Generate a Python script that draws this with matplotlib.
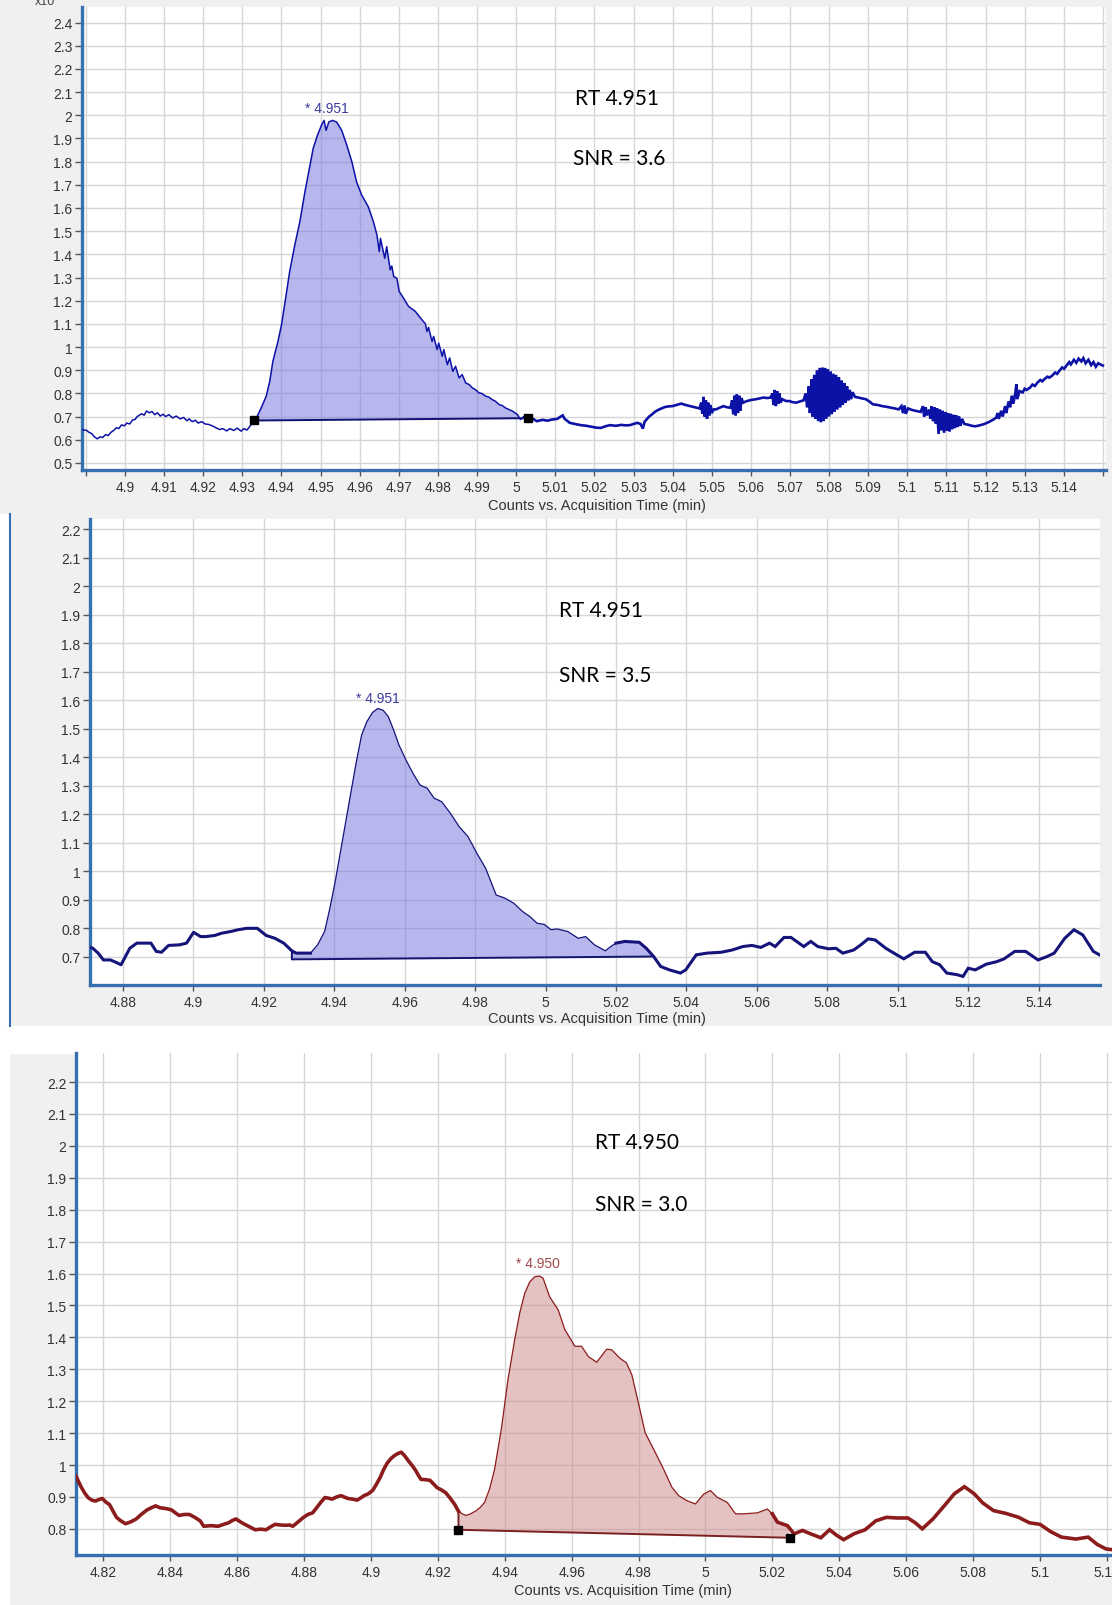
import numpy as np
import matplotlib.pyplot as plt
from matplotlib.patches import Rectangle

plt.rcParams['font.family'] = ['Liberation Sans', 'DejaVu Sans']

W, H = 1112, 1606

# ---- panel 1 : RT 4.951, SNR 3.6 (blue, noisy) ----
t1 = [4.8888, 4.8895, 4.8902, 4.8908, 4.8915, 4.8922, 4.8929, 4.8936, 4.8943, 4.8950,
      4.8957, 4.8964, 4.8971, 4.8978, 4.8984, 4.8991, 4.8998, 4.9005, 4.9012, 4.9019,
      4.9026, 4.9031, 4.9035, 4.9042, 4.9049, 4.9055, 4.9062, 4.9069, 4.9076, 4.9083,
      4.9090, 4.9097, 4.9104, 4.9112, 4.9122, 4.9131, 4.9141, 4.9150, 4.9158, 4.9164,
      4.9172, 4.9180, 4.9187, 4.9196, 4.9205, 4.9214, 4.9223, 4.9232, 4.9242, 4.9250,
      4.9260, 4.9268, 4.9278, 4.9287, 4.9297, 4.9304, 4.9312, 4.9320, 4.9330, 4.9336,
      4.9348, 4.9361, 4.9370, 4.9378, 4.9391, 4.9400, 4.9408, 4.9421, 4.9434, 4.9447,
      4.9460, 4.9473, 4.9481, 4.9492, 4.9503, 4.9509, 4.9514, 4.9521, 4.9530, 4.9541,
      4.9554, 4.9567, 4.9580, 4.9592, 4.9605, 4.9622, 4.9635, 4.9644, 4.9650, 4.9653,
      4.9664, 4.9669, 4.9678, 4.9682, 4.9687, 4.9695, 4.9701, 4.9712, 4.9725, 4.9742,
      4.9759, 4.9768, 4.9772, 4.9776, 4.9785, 4.9789, 4.9798, 4.9802, 4.9811, 4.9815,
      4.9824, 4.9830, 4.9838, 4.9845, 4.9854, 4.9862, 4.9871, 4.9880, 4.9888, 4.9896,
      4.9905, 4.9912, 4.9922, 4.9930, 4.9939, 4.9947, 4.9956, 4.9964, 4.9973, 4.9982,
      4.9991, 5.0003, 5.0011, 5.0020, 5.0029, 5.0036, 5.0043, 5.0053, 5.0068, 5.0080,
      5.0091, 5.0105, 5.0112, 5.0119, 5.0124, 5.0137, 5.0150, 5.0165, 5.0180, 5.0193,
      5.0205, 5.0217, 5.0228, 5.0240, 5.0255, 5.0268, 5.0280, 5.0291, 5.0300, 5.0310,
      5.0318, 5.0324, 5.0328, 5.0333, 5.0340, 5.0347, 5.0356, 5.0366, 5.0373, 5.0380,
      5.0390, 5.0399, 5.0410, 5.0422, 5.0433, 5.0445, 5.0457, 5.0469, 5.0473, 5.0476,
      5.0479, 5.0482, 5.0485, 5.0488, 5.0491, 5.0494, 5.0497, 5.0500, 5.0505, 5.0511,
      5.0520, 5.0530, 5.0539, 5.0548, 5.0552, 5.0555, 5.0558, 5.0561, 5.0564, 5.0567,
      5.0570, 5.0573, 5.0576, 5.0580, 5.0590, 5.0602, 5.0614, 5.0622, 5.0632, 5.0641,
      5.0651, 5.0655, 5.0658, 5.0661, 5.0664, 5.0667, 5.0670, 5.0673, 5.0676, 5.0680,
      5.0690, 5.0698, 5.0707, 5.0716, 5.0725, 5.0735, 5.0740, 5.0744, 5.0748, 5.0751,
      5.0755, 5.0758, 5.0762, 5.0765, 5.0769, 5.0772, 5.0776, 5.0779, 5.0783, 5.0786,
      5.0790, 5.0793, 5.0797, 5.0800, 5.0804, 5.0807, 5.0811, 5.0814, 5.0818, 5.0821,
      5.0825, 5.0828, 5.0832, 5.0835, 5.0839, 5.0842, 5.0846, 5.0849, 5.0853, 5.0856,
      5.0860, 5.0866, 5.0875, 5.0885, 5.0894, 5.0903, 5.0912, 5.0924, 5.0936, 5.0947,
      5.0959, 5.0968, 5.0978, 5.0985, 5.0989, 5.0993, 5.0996, 5.1002, 5.1013, 5.1024,
      5.1034, 5.1040, 5.1043, 5.1047, 5.1050, 5.1056, 5.1059, 5.1062, 5.1066, 5.1069,
      5.1073, 5.1076, 5.1080, 5.1083, 5.1087, 5.1090, 5.1094, 5.1097, 5.1101, 5.1104,
      5.1108, 5.1111, 5.1115, 5.1118, 5.1122, 5.1125, 5.1129, 5.1132, 5.1136, 5.1140,
      5.1146, 5.1155, 5.1165, 5.1174, 5.1185, 5.1197, 5.1208, 5.1220, 5.1227, 5.1231,
      5.1234, 5.1240, 5.1244, 5.1250, 5.1253, 5.1259, 5.1263, 5.1267, 5.1271, 5.1276,
      5.1279, 5.1281, 5.1287, 5.1295, 5.1300, 5.1305, 5.1314, 5.1320, 5.1326, 5.1333,
      5.1340, 5.1345, 5.1351, 5.1358, 5.1363, 5.1370, 5.1378, 5.1383, 5.1389, 5.1396,
      5.1401, 5.1407, 5.1414, 5.1418, 5.1426, 5.1432, 5.1438, 5.1445, 5.1450, 5.1456,
      5.1463, 5.1470, 5.1476, 5.1482, 5.1488, 5.1491, 5.1500]
i1 = [0.645, 0.642, 0.640, 0.632, 0.626, 0.612, 0.604, 0.612, 0.610, 0.622,
      0.618, 0.632, 0.640, 0.652, 0.648, 0.664, 0.660, 0.672, 0.668, 0.685,
      0.688, 0.700, 0.704, 0.712, 0.706, 0.724, 0.716, 0.722, 0.708, 0.716,
      0.702, 0.710, 0.700, 0.708, 0.694, 0.702, 0.690, 0.696, 0.682, 0.690,
      0.678, 0.684, 0.672, 0.678, 0.668, 0.666, 0.660, 0.652, 0.644, 0.648,
      0.638, 0.648, 0.640, 0.650, 0.637, 0.648, 0.642, 0.660, 0.683, 0.694,
      0.737, 0.788, 0.852, 0.938, 1.024, 1.096, 1.182, 1.326, 1.440, 1.541,
      1.670, 1.785, 1.857, 1.914, 1.960, 1.978, 1.935, 1.971, 1.978, 1.971,
      1.935, 1.871, 1.799, 1.713, 1.656, 1.605, 1.541, 1.484, 1.412, 1.469,
      1.383, 1.433, 1.333, 1.350, 1.304, 1.297, 1.240, 1.211, 1.175, 1.154,
      1.118, 1.100, 1.067, 1.085, 1.024, 1.046, 0.989, 1.017, 0.960, 0.989,
      0.924, 0.953, 0.895, 0.917, 0.867, 0.881, 0.845, 0.838, 0.824, 0.816,
      0.802, 0.800, 0.788, 0.784, 0.773, 0.766, 0.752, 0.748, 0.737, 0.730,
      0.723, 0.709, 0.687, 0.701, 0.693, 0.680, 0.690, 0.680, 0.686, 0.682,
      0.687, 0.690, 0.698, 0.705, 0.690, 0.673, 0.668, 0.663, 0.660, 0.656,
      0.652, 0.651, 0.658, 0.663, 0.660, 0.664, 0.662, 0.663, 0.668, 0.673,
      0.668, 0.648, 0.676, 0.687, 0.700, 0.709, 0.722, 0.731, 0.736, 0.741,
      0.744, 0.745, 0.750, 0.756, 0.750, 0.745, 0.740, 0.735, 0.760, 0.712,
      0.785, 0.700, 0.770, 0.690, 0.760, 0.705, 0.750, 0.715, 0.731, 0.731,
      0.738, 0.745, 0.740, 0.738, 0.770, 0.710, 0.790, 0.705, 0.795, 0.715,
      0.790, 0.725, 0.780, 0.760, 0.767, 0.772, 0.775, 0.778, 0.782, 0.780,
      0.782, 0.800, 0.750, 0.815, 0.745, 0.810, 0.755, 0.800, 0.760, 0.775,
      0.767, 0.767, 0.762, 0.760, 0.765, 0.770, 0.800, 0.740, 0.830, 0.715,
      0.860, 0.700, 0.880, 0.690, 0.900, 0.680, 0.910, 0.675, 0.912, 0.680,
      0.910, 0.690, 0.905, 0.700, 0.895, 0.710, 0.885, 0.720, 0.880, 0.730,
      0.870, 0.740, 0.855, 0.750, 0.845, 0.760, 0.830, 0.770, 0.815, 0.775,
      0.805, 0.785, 0.782, 0.778, 0.775, 0.765, 0.753, 0.750, 0.745, 0.742,
      0.738, 0.735, 0.731, 0.745, 0.715, 0.748, 0.712, 0.735, 0.728, 0.724,
      0.720, 0.745, 0.700, 0.740, 0.705, 0.730, 0.690, 0.745, 0.680, 0.740,
      0.670, 0.735, 0.625, 0.730, 0.640, 0.725, 0.630, 0.720, 0.640, 0.715,
      0.635, 0.712, 0.645, 0.708, 0.650, 0.705, 0.655, 0.700, 0.660, 0.690,
      0.668, 0.665, 0.660, 0.658, 0.662, 0.668, 0.676, 0.687, 0.695, 0.715,
      0.690, 0.725, 0.700, 0.745, 0.715, 0.765, 0.740, 0.790, 0.755, 0.800,
      0.840, 0.775, 0.810, 0.804, 0.820, 0.815, 0.825, 0.838, 0.832, 0.847,
      0.858, 0.852, 0.862, 0.872, 0.868, 0.876, 0.890, 0.884, 0.898, 0.912,
      0.906, 0.920, 0.935, 0.925, 0.945, 0.932, 0.950, 0.938, 0.952, 0.930,
      0.945, 0.922, 0.935, 0.915, 0.930, 0.927, 0.920]

# ---- panel 2 : RT 4.951, SNR 3.5 (navy, smoothed) ----
t2 = [4.8707, 4.8715, 4.8730, 4.8745, 4.8765, 4.8780, 4.8795, 4.8805, 4.8820, 4.8840,
      4.8880, 4.8895, 4.8910, 4.8930, 4.8961, 4.8981, 4.9001, 4.9021, 4.9036, 4.9061,
      4.9081, 4.9107, 4.9127, 4.9152, 4.9182, 4.9207, 4.9232, 4.9257, 4.9280, 4.9292,
      4.9333, 4.9353, 4.9373, 4.9388, 4.9403, 4.9423, 4.9443, 4.9463, 4.9478, 4.9493,
      4.9509, 4.9524, 4.9539, 4.9554, 4.9569, 4.9584, 4.9604, 4.9624, 4.9644, 4.9664,
      4.9684, 4.9705, 4.9730, 4.9755, 4.9780, 4.9805, 4.9830, 4.9860, 4.9885, 4.9910,
      4.9935, 4.9956, 4.9976, 4.9996, 5.0016, 5.0033, 5.0063, 5.0093, 5.0114, 5.0139,
      5.0170, 5.0185, 5.0200, 5.0225, 5.0266, 5.0286, 5.0307, 5.0327, 5.0352, 5.0383,
      5.0398, 5.0428, 5.0459, 5.0499, 5.0530, 5.0560, 5.0586, 5.0611, 5.0636, 5.0652,
      5.0677, 5.0697, 5.0733, 5.0753, 5.0773, 5.0804, 5.0824, 5.0844, 5.0875, 5.0895,
      5.0916, 5.0936, 5.0966, 5.0997, 5.1017, 5.1048, 5.1078, 5.1098, 5.1119, 5.1139,
      5.1169, 5.1185, 5.1200, 5.1220, 5.1251, 5.1281, 5.1302, 5.1332, 5.1363, 5.1398,
      5.1424, 5.1444, 5.1474, 5.1500, 5.1525, 5.1555, 5.1574]
i2 = [0.732, 0.729, 0.712, 0.688, 0.688, 0.680, 0.671, 0.694, 0.729, 0.747,
      0.747, 0.718, 0.715, 0.739, 0.741, 0.747, 0.785, 0.770, 0.770, 0.774,
      0.782, 0.788, 0.794, 0.799, 0.799, 0.774, 0.764, 0.747, 0.720, 0.712,
      0.712, 0.741, 0.788, 0.870, 0.963, 1.103, 1.244, 1.384, 1.478, 1.525,
      1.557, 1.571, 1.565, 1.542, 1.495, 1.443, 1.390, 1.343, 1.302, 1.291,
      1.256, 1.244, 1.203, 1.156, 1.121, 1.063, 1.010, 0.916, 0.905, 0.887,
      0.858, 0.840, 0.817, 0.813, 0.794, 0.797, 0.788, 0.764, 0.770, 0.741,
      0.720, 0.735, 0.747, 0.753, 0.750, 0.729, 0.700, 0.665, 0.653, 0.642,
      0.653, 0.706, 0.712, 0.715, 0.723, 0.735, 0.739, 0.732, 0.747, 0.735,
      0.767, 0.767, 0.735, 0.753, 0.735, 0.727, 0.729, 0.712, 0.723, 0.741,
      0.762, 0.758, 0.729, 0.706, 0.692, 0.715, 0.715, 0.682, 0.671, 0.642,
      0.636, 0.630, 0.659, 0.653, 0.673, 0.682, 0.692, 0.718, 0.718, 0.688,
      0.700, 0.712, 0.764, 0.794, 0.776, 0.718, 0.705]

# ---- panel 3 : RT 4.950, SNR 3.0 (dark red) ----
t3 = [4.8119, 4.8134, 4.8145, 4.8155, 4.8166, 4.8177, 4.8188, 4.8198, 4.8208, 4.8219,
      4.8230, 4.8240, 4.8253, 4.8267, 4.8283, 4.8299, 4.8315, 4.8331, 4.8344, 4.8357,
      4.8370, 4.8384, 4.8395, 4.8405, 4.8416, 4.8427, 4.8442, 4.8458, 4.8474, 4.8490,
      4.8501, 4.8522, 4.8544, 4.8560, 4.8575, 4.8586, 4.8597, 4.8613, 4.8629, 4.8642,
      4.8655, 4.8671, 4.8687, 4.8700, 4.8714, 4.8730, 4.8746, 4.8757, 4.8767, 4.8783,
      4.8799, 4.8812, 4.8826, 4.8841, 4.8852, 4.8863, 4.8874, 4.8884, 4.8898, 4.8911,
      4.8922, 4.8932, 4.8946, 4.8959, 4.8970, 4.8980, 4.8993, 4.9006, 4.9017, 4.9028,
      4.9038, 4.9049, 4.9060, 4.9070, 4.9081, 4.9091, 4.9102, 4.9113, 4.9124, 4.9134,
      4.9142, 4.9150, 4.9164, 4.9177, 4.9188, 4.9198, 4.9211, 4.9224, 4.9238, 4.9251,
      4.9262, 4.9275, 4.9285, 4.9300, 4.9315, 4.9328, 4.9340, 4.9355, 4.9370, 4.9390,
      4.9410, 4.9430, 4.9445, 4.9460, 4.9475, 4.9490, 4.9505, 4.9515, 4.9534, 4.9560,
      4.9580, 4.9610, 4.9630, 4.9650, 4.9675, 4.9705, 4.9720, 4.9744, 4.9764, 4.9780,
      4.9795, 4.9820, 4.9845, 4.9875, 4.9900, 4.9920, 4.9945, 4.9970, 4.9995, 5.0015,
      5.0035, 5.0065, 5.0090, 5.0115, 5.0155, 5.0185, 5.0200, 5.0215, 5.0245, 5.0265,
      5.0290, 5.0315, 5.0345, 5.0371, 5.0392, 5.0413, 5.0445, 5.0477, 5.0509, 5.0541,
      5.0573, 5.0605, 5.0627, 5.0648, 5.0680, 5.0712, 5.0744, 5.0774, 5.0803, 5.0829,
      5.0861, 5.0899, 5.0936, 5.0968, 5.1000, 5.1032, 5.1064, 5.1107, 5.1144, 5.1171,
      5.1197, 5.1221]
i3 = [0.965, 0.932, 0.912, 0.898, 0.890, 0.887, 0.892, 0.895, 0.884, 0.876,
      0.855, 0.836, 0.825, 0.816, 0.822, 0.831, 0.846, 0.859, 0.866, 0.872,
      0.866, 0.864, 0.862, 0.859, 0.850, 0.842, 0.845, 0.845, 0.836, 0.825,
      0.808, 0.810, 0.808, 0.814, 0.819, 0.826, 0.831, 0.820, 0.811, 0.804,
      0.797, 0.799, 0.797, 0.806, 0.814, 0.812, 0.811, 0.812, 0.808, 0.822,
      0.836, 0.845, 0.850, 0.870, 0.885, 0.898, 0.896, 0.893, 0.900, 0.904,
      0.899, 0.895, 0.893, 0.890, 0.897, 0.904, 0.910, 0.921, 0.940, 0.961,
      0.985, 1.006, 1.020, 1.029, 1.036, 1.040, 1.028, 1.012, 0.998, 0.983,
      0.968, 0.955, 0.954, 0.952, 0.940, 0.929, 0.922, 0.913, 0.895, 0.876,
      0.855, 0.846, 0.842, 0.848, 0.857, 0.868, 0.883, 0.925, 0.987, 1.112,
      1.268, 1.393, 1.476, 1.538, 1.574, 1.590, 1.592, 1.585, 1.528, 1.486,
      1.424, 1.372, 1.372, 1.340, 1.322, 1.363, 1.361, 1.335, 1.320, 1.283,
      1.216, 1.101, 1.050, 0.987, 0.930, 0.904, 0.888, 0.878, 0.909, 0.920,
      0.899, 0.883, 0.847, 0.847, 0.850, 0.862, 0.847, 0.821, 0.810, 0.784,
      0.795, 0.784, 0.772, 0.797, 0.780, 0.766, 0.785, 0.797, 0.825, 0.836,
      0.834, 0.834, 0.819, 0.800, 0.831, 0.870, 0.910, 0.932, 0.910, 0.881,
      0.857, 0.848, 0.836, 0.819, 0.814, 0.791, 0.774, 0.768, 0.774, 0.751,
      0.737, 0.734]

# integration: (start, end, baseline at start, baseline at end)
peak1 = (4.9330, 5.0029, 0.683, 0.693)
peak2 = (4.9280, 5.0307, 0.690, 0.700)
peak3 = (4.9262, 5.0254, 0.797, 0.772)
rt_labels = ["RT 4.951", "RT 4.951", "RT 4.950"]
snr_labels = ["SNR = 3.6", "SNR = 3.5", "SNR = 3.0"]
apex_labels = ["4.951", "4.951", "4.950"]

SPINE = "#3670b0"
GRID = "#d6d6d6"


def box(l, t, r, b):
    return [l / W, 1 - b / H, (r - l) / W, (b - t) / H]


def style_axes(ax, xlim, ylim, xt, yt, skip=()):
    ax.set_facecolor("white")
    ax.set_xlim(*xlim)
    ax.set_ylim(*ylim)
    ax.set_xticks(xt)
    ax.set_xticklabels(["" if v in skip else f"{v:g}" for v in xt])
    ax.set_yticks(yt)
    ax.set_yticklabels([f"{v:g}" for v in yt])
    ax.set_axisbelow(True)
    ax.grid(True, color=GRID, lw=1)
    for s in ("top", "right"):
        ax.spines[s].set_visible(False)
    ax.spines["left"].set_color(SPINE)
    ax.spines["left"].set_linewidth(2.4)
    ax.spines["bottom"].set_color(SPINE)
    ax.spines["bottom"].set_linewidth(2.4)
    ax.tick_params(axis="both", colors="#555555", labelcolor="#333333",
                   labelsize=10, direction="out", width=1)
    ax.tick_params(axis="y", length=5, pad=2)
    ax.tick_params(axis="x", length=4, pad=3)


def draw_trace(ax, t, y, color, lw_left, lw_in, lw_right, thin_from, thin_to):
    t = np.asarray(t)
    y = np.asarray(y)
    a = np.searchsorted(t, thin_from)
    b = np.searchsorted(t, thin_to, side="right")
    ax.plot(t[:a + 1], y[:a + 1], color=color, lw=lw_left, zorder=3)
    ax.plot(t[a:b], y[a:b], color=color, lw=lw_in, zorder=3)
    ax.plot(t[b - 1:], y[b - 1:], color=color, lw=lw_right, zorder=3,
            solid_joinstyle="miter")


def draw_peak(ax, t, y, peak, face, edge, markers):
    start, end, b0, b1 = peak
    t = np.asarray(t)
    y = np.asarray(y)
    m = (t >= start) & (t <= end)
    xs = np.concatenate([[start], t[m], [end]])
    ys = np.concatenate([[b0], y[m], [b1]])
    ax.fill(xs, ys, color=face, alpha=0.5, lw=0, zorder=2)
    ax.plot([start, start, end], [y[m][0], b0, b1], color=edge, lw=1.4, zorder=3)
    if markers:
        ax.plot([start, end], [b0, b1], ls="none", marker="s", ms=5.5,
                color="black", zorder=4)


fig = plt.figure(figsize=(W / 100, H / 100), dpi=100, facecolor="#f0f0f0")

# white strips around the second and third windows
fig.add_artist(Rectangle((0, 1 - 1027 / H), 10 / W, 512 / H,
                         transform=fig.transFigure, color="white", zorder=0))
fig.add_artist(Rectangle((0, 0), 9 / W, 1 - 1027 / H,
                         transform=fig.transFigure, color="white", zorder=0))
fig.add_artist(Rectangle((0, 1 - 1054 / H), 1, 27 / H,
                         transform=fig.transFigure, color="white", zorder=0))
fig.add_artist(plt.Line2D([10 / W, 10 / W], [1 - 515 / H, 1 - 1027 / H],
                          transform=fig.transFigure, color=SPINE, lw=1.5))
fig.text(35 / W, 1 - 2 / H, "x10", fontsize=9, color="#444444", va="center")

# ---- panel 1 ----
ax1 = fig.add_axes(box(82, 8, 1106, 471))
xt1 = list(np.round(np.arange(4.89, 5.1551, 0.01), 2))
yt1 = list(np.round(np.arange(0.5, 2.41, 0.1), 1))
style_axes(ax1, (4.8890, 5.1508), (0.4694, 2.4673), xt1, yt1, skip=(4.89, 5.15))
draw_peak(ax1, t1, i1, peak1, "#7171dd", "#101070", True)
draw_trace(ax1, t1, i1, "#0d12a6", 1.1, 1.1, 1.9, peak1[0], peak1[1])
ax1.text(4.9515, 2.0, "* " + apex_labels[0], fontsize=10, color="#3c3ca0",
         ha="center", va="bottom")

# ---- panel 2 ----
ax2 = fig.add_axes(box(90, 520, 1100, 986))
xt2 = list(np.round(np.arange(4.88, 5.141, 0.02), 2))
yt2 = list(np.round(np.arange(0.7, 2.21, 0.1), 1))
style_axes(ax2, (4.8707, 5.1574), (0.6, 2.2365), xt2, yt2)
draw_peak(ax2, t2, i2, peak2, "#7171dd", "#141470", False)
draw_trace(ax2, t2, i2, "#14147a", 2.2, 0.9, 2.2, 4.9333, 5.0200)
ax2.text(4.9524, 1.585, "* " + apex_labels[1], fontsize=10, color="#3c3ca0",
         ha="center", va="bottom")

# ---- panel 3 ----
ax3 = fig.add_axes(box(76, 1054, 1112, 1556))
xt3 = list(np.round(np.arange(4.82, 5.121, 0.02), 2))
yt3 = list(np.round(np.arange(0.8, 2.21, 0.1), 1))
style_axes(ax3, (4.8119, 5.1215), (0.718, 2.291), xt3, yt3)
draw_peak(ax3, t3, i3, peak3, "#cd8787", "#7a2020", True)
draw_trace(ax3, t3, i3, "#8c1c1c", 2.6, 0.9, 2.6, peak3[0], 5.0210)
ax3.text(4.9500, 1.610, "* " + apex_labels[2], fontsize=10, color="#a04848",
         ha="center", va="bottom")

# axis titles
for xc, yc in [(597, 506), (597, 1019), (623, 1591)]:
    fig.text(xc / W, 1 - yc / H, "Counts vs. Acquisition Time (min)", fontsize=10.5,
             color="#333333", ha="center", va="center")

# RT / SNR notes
notes = [(575, 99, 573, 159), (559, 611, 559, 676), (595, 1143, 595, 1205)]
for k, (xr, yr, xs, ys) in enumerate(notes):
    fig.text(xr / W, 1 - yr / H, rt_labels[k], fontsize=15, family="Lato",
             color="black", va="center")
    fig.text(xs / W, 1 - ys / H, snr_labels[k], fontsize=15, family="Lato",
             color="black", va="center")

fig.savefig("out.png", dpi=100, facecolor=fig.get_facecolor())
